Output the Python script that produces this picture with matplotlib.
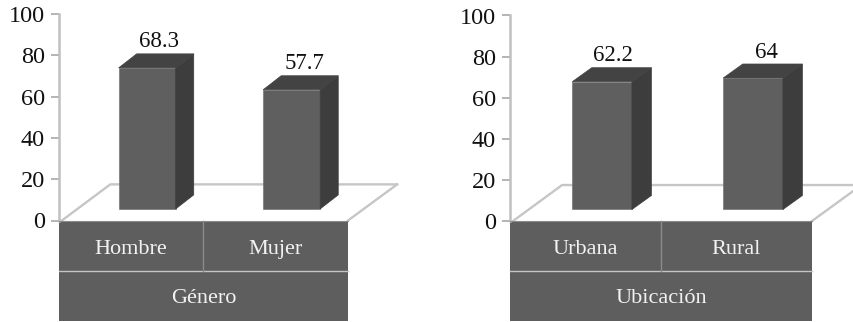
import matplotlib
matplotlib.use("Agg")
import matplotlib.pyplot as plt
from matplotlib.patches import Polygon, Rectangle

# data
gen_cats = ["Hombre", "Mujer"]
gen_vals = [68.3, 57.7]
gen_labels = ["68.3", "57.7"]
gen_title = "Género"

ubi_cats = ["Urbana", "Rural"]
ubi_vals = [62.2, 64]
ubi_labels = ["62.2", "64"]
ubi_title = "Ubicación"

yticks = [0, 20, 40, 60, 80, 100]

W, H = 854, 322
plt.rcParams['font.family'] = ['Liberation Serif', 'DejaVu Serif']

FRONT = "#5f5f5f"
SIDE = "#3d3d3d"
TOP = "#434343"
CELL = "#5e5e5e"
GRID = "#c6c6c6"
BASE = 5.6   # bars stand on the floor, a bit above zero
DY = 6.8     # depth of the 3d effect in y units


def panel(rect_px, cats, vals, labels, title, dx, xback, xright_end, yright_end, lab_shift):
    x0, x1, ytop, ybot = rect_px
    ax = fig.add_axes([x0 / W, 1 - ybot / H, (x1 - x0) / W, (ybot - ytop) / H])
    ax.set_xlim(0, 2)
    ax.set_ylim(0, 100)
    ax.patch.set_alpha(0)
    for s in ["top", "right", "bottom"]:
        ax.spines[s].set_visible(False)
    ax.spines["left"].set_color("#c0c0c0")
    ax.spines["left"].set_linewidth(1.8)
    ax.set_yticks(yticks)
    ax.set_xticks([])
    ax.tick_params(axis="y", length=6, width=1.2, color="#a8a8a8", pad=4, labelsize=17.5, labelcolor="#111111")

    # floor
    ax.plot([0.02, xback, xright_end], [0, 17.5, 17.5], color=GRID, lw=1.7, clip_on=False, zorder=1)
    ax.plot([2, xright_end], [0, yright_end], color=GRID, lw=1.7, clip_on=False, zorder=1)

    # bars
    pos = [0.61, 1.61]
    w = 0.395
    ax.bar(pos, vals, width=w, bottom=BASE, color=FRONT, edgecolor="#777777", linewidth=0.5, zorder=3, clip_on=False)
    for p, v, lab, sh in zip(pos, vals, labels, lab_shift):
        l, r = p - w / 2, p + w / 2
        t = BASE + v
        ax.add_patch(Polygon([(r, BASE), (r + dx, BASE + DY), (r + dx, t + DY), (r, t)],
                             facecolor=SIDE, edgecolor=SIDE, lw=0.5, zorder=3, clip_on=False))
        ax.add_patch(Polygon([(l, t), (l + dx, t + DY), (r + dx, t + DY), (r, t)],
                             facecolor=TOP, edgecolor=TOP, lw=0.5, zorder=3, clip_on=False))
        ax.text(p + sh, t + DY + 5.8, lab, ha="center", va="center", fontsize=16.5, color="#111111")

    # category table under the axis
    ax.add_patch(Rectangle((0, -48.5), 2, 48.5, facecolor=CELL, edgecolor="none", clip_on=False, zorder=2))
    ax.plot([0, 2], [-24.3, -24.3], color="#c4c4c4", lw=1, clip_on=False, zorder=3)
    ax.plot([1, 1], [0, -24.3], color="#8a8a8a", lw=1, clip_on=False, zorder=3)
    ax.plot([0, 2], [0, 0], color="#8a8a8a", lw=0.8, clip_on=False, zorder=3)
    ax.text(0.5, -14, cats[0], ha="center", va="center", fontsize=16, color="#f2f2f2", zorder=4)
    ax.text(1.5, -14, cats[1], ha="center", va="center", fontsize=16, color="#f2f2f2", zorder=4)
    ax.text(1.0, -37.7, title, ha="center", va="center", fontsize=16, color="#f2f2f2", zorder=4)
    return ax


fig = plt.figure(figsize=(W / 100, H / 100), dpi=100)

panel((59, 348, 14, 220.5), gen_cats, gen_vals, gen_labels, gen_title,
      0.125, 0.355, 2.34, 17.5, [0.08, 0.09])
panel((510, 812, 15.5, 221), ubi_cats, ubi_vals, ubi_labels, ubi_title,
      0.129, 0.345, 2.29, 15.5, [0.07, 0.09])

fig.savefig("out.png", dpi=100)
